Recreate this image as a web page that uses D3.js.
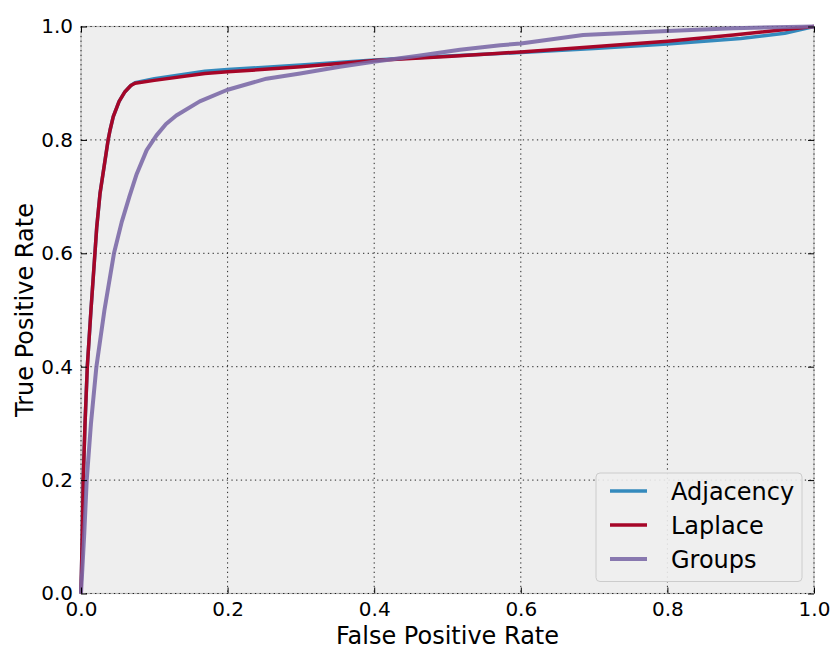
<!DOCTYPE html>
<html>
<head>
<meta charset="utf-8">
<script src="https://cdn.jsdelivr.net/npm/d3@7"></script>
<style>
  html, body { margin: 0; padding: 0; background: #ffffff; }
  svg { display: block; font-family: "DejaVu Sans", sans-serif; }
</style>
</head>
<body>
<svg id="chart" width="833" height="649"></svg>
<script>
// ROC curves: false positive rate vs true positive rate
const seriesNames = ["Adjacency", "Laplace", "Groups"];
const seriesColors = ["#348ABD", "#A60628", "#7A68A6"];

const adjacencyFpr = [0, 0.0018, 0.003, 0.0055, 0.0086, 0.0136, 0.019, 0.0214, 0.026, 0.037, 0.0396, 0.044, 0.052, 0.060, 0.068, 0.0737, 0.1, 0.169, 0.2, 0.3, 0.4, 0.5, 0.6, 0.7, 0.8, 0.9, 0.96, 1];
const adjacencyTpr = [0, 0.107, 0.2, 0.3, 0.4, 0.5, 0.6, 0.645, 0.706, 0.8, 0.817, 0.841, 0.868, 0.885, 0.896, 0.901, 0.908, 0.921, 0.924, 0.932, 0.941, 0.948, 0.954, 0.961, 0.969, 0.979, 0.988, 1];

const laplaceFpr = [0, 0.0018, 0.003, 0.0055, 0.0086, 0.0136, 0.019, 0.0214, 0.026, 0.037, 0.0396, 0.044, 0.052, 0.060, 0.068, 0.0737, 0.1, 0.169, 0.2, 0.3, 0.4, 0.5, 0.572, 0.6, 0.685, 0.8, 0.89, 1];
const laplaceTpr = [0, 0.107, 0.2, 0.3, 0.4, 0.5, 0.6, 0.645, 0.706, 0.8, 0.817, 0.841, 0.868, 0.885, 0.896, 0.900, 0.905, 0.917, 0.920, 0.929, 0.940, 0.947, 0.953, 0.955, 0.963, 0.974, 0.985, 1];

const groupsFpr = [0, 0.0045, 0.0078, 0.0136, 0.021, 0.032, 0.045, 0.0555, 0.066, 0.076, 0.0896, 0.103, 0.116, 0.13, 0.162, 0.199, 0.253, 0.299, 0.353, 0.399, 0.458, 0.517, 0.572, 0.6, 0.685, 0.8, 0.89, 1];
const groupsTpr = [0, 0.107, 0.2, 0.3, 0.4, 0.5, 0.6, 0.655, 0.700, 0.740, 0.782, 0.808, 0.828, 0.843, 0.868, 0.888, 0.908, 0.917, 0.929, 0.938, 0.948, 0.959, 0.967, 0.970, 0.985, 0.992, 0.997, 1];

const tickValues = [0, 0.2, 0.4, 0.6, 0.8, 1.0];
const xLabel = "False Positive Rate";
const yLabel = "True Positive Rate";

const series = [
  { name: seriesNames[0], color: seriesColors[0], fpr: adjacencyFpr, tpr: adjacencyTpr, width: 3.5, opacity: 1 },
  { name: seriesNames[1], color: seriesColors[1], fpr: laplaceFpr, tpr: laplaceTpr, width: 3.5, opacity: 1 },
  { name: seriesNames[2], color: seriesColors[2], fpr: groupsFpr, tpr: groupsTpr, width: 4, opacity: 0.88 }
];

const svg = d3.select("#chart");
const plot = { left: 81, right: 814, top: 26.5, bottom: 593.5 };

const x = d3.scaleLinear().domain([0, 1]).range([plot.left, plot.right]);
const y = d3.scaleLinear().domain([0, 1]).range([plot.bottom, plot.top]);

// axes background and frame
svg.append("rect")
  .attr("x", plot.left).attr("y", plot.top)
  .attr("width", plot.right - plot.left).attr("height", plot.bottom - plot.top)
  .attr("fill", "#eeeeee")
  .attr("stroke", "#bcbcbc").attr("stroke-width", 1.2);

// dotted grid
const grid = svg.append("g").attr("stroke", "#000").attr("stroke-width", 1)
  .attr("stroke-dasharray", "1.3,3.4").attr("stroke-opacity", 0.85);
grid.selectAll("line.v").data(tickValues).join("line").attr("class", "v")
  .attr("x1", d => x(d)).attr("x2", d => x(d))
  .attr("y1", plot.top).attr("y2", plot.bottom);
grid.selectAll("line.h").data(tickValues).join("line").attr("class", "h")
  .attr("y1", d => y(d)).attr("y2", d => y(d))
  .attr("x1", plot.left).attr("x2", plot.right);

// curves
const line = d3.line().x(d => x(d[0])).y(d => y(d[1]));
svg.append("g").selectAll("path").data(series).join("path")
  .attr("d", s => line(s.fpr.map((f, i) => [f, s.tpr[i]])))
  .attr("fill", "none")
  .attr("stroke", s => s.color)
  .attr("stroke-width", s => s.width)
  .attr("stroke-opacity", s => s.opacity)
  .attr("stroke-linejoin", "round")
  .attr("stroke-linecap", "butt");

// axes with inward ticks on all four sides
const fmt = d3.format(".1f");
function styleAxis(g) {
  g.select(".domain").remove();
  g.selectAll(".tick line").attr("stroke", "#000").attr("stroke-width", 1);
  g.selectAll(".tick text").attr("fill", "#000").attr("font-size", "20px")
    .attr("font-family", "DejaVu Sans, sans-serif");
}
svg.append("g").attr("transform", `translate(0,${plot.bottom})`)
  .call(d3.axisBottom(x).tickValues(tickValues).tickFormat(fmt).tickSize(-6).tickPadding(8))
  .call(styleAxis);
svg.append("g").attr("transform", `translate(${plot.left},0)`)
  .call(d3.axisLeft(y).tickValues(tickValues).tickFormat(fmt).tickSize(-6).tickPadding(8))
  .call(styleAxis);
svg.append("g").attr("transform", `translate(0,${plot.top})`)
  .call(d3.axisTop(x).tickValues(tickValues).tickFormat("").tickSize(-6))
  .call(styleAxis);
svg.append("g").attr("transform", `translate(${plot.right},0)`)
  .call(d3.axisRight(y).tickValues(tickValues).tickFormat("").tickSize(-6))
  .call(styleAxis);

// axis labels
svg.append("text")
  .attr("x", (plot.left + plot.right) / 2).attr("y", 644)
  .attr("text-anchor", "middle").attr("font-size", "24px").attr("fill", "#000")
  .text(xLabel);
svg.append("text")
  .attr("transform", `translate(33,${(plot.top + plot.bottom) / 2}) rotate(-90)`)
  .attr("text-anchor", "middle").attr("font-size", "24px").attr("fill", "#000")
  .text(yLabel);

// legend
const legend = svg.append("g");
legend.append("rect")
  .attr("x", 596).attr("y", 473).attr("width", 206).attr("height", 108.5)
  .attr("rx", 4).attr("ry", 4)
  .attr("fill", "#eeeeee").attr("fill-opacity", 0.9)
  .attr("stroke", "#cccccc").attr("stroke-width", 1);
const items = legend.selectAll("g.item").data(series).join("g").attr("class", "item")
  .attr("transform", (d, i) => `translate(0,${491 + i * 34})`);
items.append("line")
  .attr("x1", 610).attr("x2", 647).attr("y1", 0).attr("y2", 0)
  .attr("stroke", d => d.color).attr("stroke-width", d => d.width)
  .attr("stroke-opacity", d => d.opacity);
items.append("text")
  .attr("x", 671).attr("y", 8.6)
  .attr("font-size", "24px").attr("fill", "#000")
  .text(d => d.name);
</script>
</body>
</html>
